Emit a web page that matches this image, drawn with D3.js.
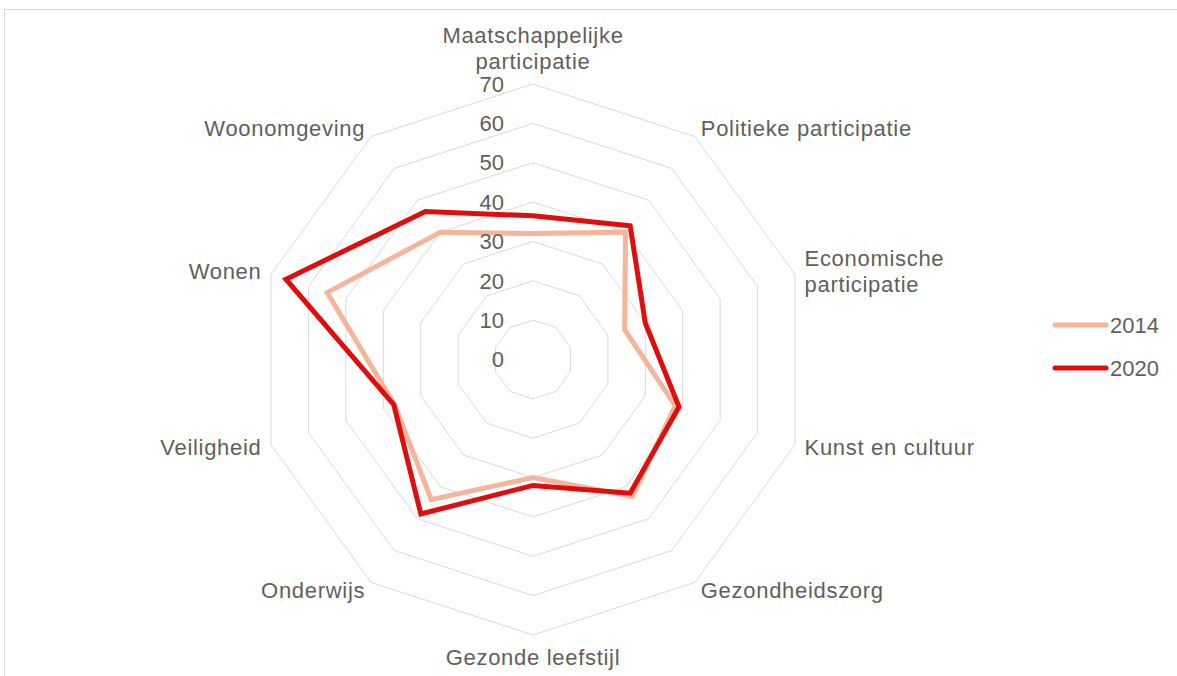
<!DOCTYPE html>
<html>
<head>
<meta charset="utf-8">
<script src="https://cdn.jsdelivr.net/npm/d3@7"></script>
<style>
  html, body { margin: 0; padding: 0; background: #fff; }
  svg { display: block; }
  text { font-family: "Liberation Sans", Arial, sans-serif; fill: #5f5f5f; }
</style>
</head>
<body>
<svg id="chart" width="1177" height="676"></svg>
<script>
// ---- data ----
const categories = [
  "Maatschappelijke\nparticipatie",
  "Politieke participatie",
  "Economische\nparticipatie",
  "Kunst en cultuur",
  "Gezondheidszorg",
  "Gezonde leefstijl",
  "Onderwijs",
  "Veiligheid",
  "Wonen",
  "Woonomgeving"
];
const seriesNames = ["2014", "2020"];
const values2014 = [32, 40, 24.5, 38, 43, 30, 44, 37, 55, 40];
const values2020 = [36.5, 42, 30, 39, 42, 32, 48.5, 37.2, 66, 46.5];
const tickValues = [0, 10, 20, 30, 40, 50, 60, 70];

// ---- layout ----
const W = 1177, H = 676;
const cx = 533, cy = 359.5, R = 275.5;
const colors = { "2014": "#f4b59b", "2020": "#e00d0d" };
const fontSize = 22;

const svg = d3.select("#chart");
svg.append("rect").attr("x", 4.5).attr("y", 9.5).attr("width", W + 10).attr("height", H + 10)
  .attr("fill", "#fff").attr("stroke", "#d9d9d9").attr("stroke-width", 1);

const g = svg.append("g").attr("transform", `translate(${cx},${cy})`);
const n = categories.length;
const r = d3.scaleLinear().domain([0, 70]).range([0, R]);
const angle = d3.scaleLinear().domain([0, n]).range([0, 2 * Math.PI]);

// rings
const ring = d3.lineRadial()
  .angle((d, i) => angle(i))
  .radius(d => r(d))
  .curve(d3.curveLinearClosed);
tickValues.filter(v => v > 0).forEach(v => {
  g.append("path")
    .attr("d", ring(d3.range(n).map(() => v)))
    .attr("fill", "none")
    .attr("stroke", "#d9d9d9")
    .attr("stroke-width", 1);
});

// series
const line = d3.lineRadial()
  .angle((d, i) => angle(i))
  .radius(d => r(d))
  .curve(d3.curveLinearClosed);
[["2014", values2014], ["2020", values2020]].forEach(([name, vals]) => {
  g.append("path")
    .attr("d", line(vals))
    .attr("fill", "none")
    .attr("stroke", colors[name])
    .attr("stroke-width", 5)
    .attr("stroke-linejoin", "miter");
});

// tick labels
g.selectAll("text.tick").data(tickValues).join("text")
  .attr("class", "tick")
  .attr("x", -29)
  .attr("y", d => -r(d))
  .attr("dy", "0.35em")
  .attr("text-anchor", "end")
  .style("font-size", fontSize + "px")
  .text(d => d);

// axis labels
const lineH = 25.5;
categories.forEach((c, i) => {
  const a = angle(i);
  const s = Math.sin(a), co = Math.cos(a);
  const d = r(70) + 10;
  const px = d * s, py = -d * co;
  const lines = c.split("\n");
  const blockH = lines.length * lineH;
  let anchor, top;
  if (Math.abs(s) < 0.01) {
    anchor = "middle";
    top = co > 0 ? py - blockH : py;
  } else {
    anchor = s > 0 ? "start" : "end";
    top = py - blockH / 2;
  }
  const t = g.append("text")
    .attr("text-anchor", anchor)
    .style("font-size", fontSize + "px")
    .style("letter-spacing", "0.7px");
  lines.forEach((l, k) => {
    t.append("tspan")
      .attr("x", px)
      .attr("y", top + k * lineH + lineH / 2)
      .attr("dy", "0.35em")
      .text(l);
  });
});

// legend
const legend = svg.append("g");
seriesNames.forEach((name, k) => {
  const y = 325 + k * 43;
  legend.append("line")
    .attr("x1", 1055).attr("x2", 1106)
    .attr("y1", y).attr("y2", y)
    .attr("stroke", colors[name]).attr("stroke-width", 5)
    .attr("stroke-linecap", "round");
  legend.append("text")
    .attr("x", 1110).attr("y", y)
    .attr("dy", "0.35em")
    .style("font-size", fontSize + "px")
    .text(name);
});
</script>
</body>
</html>
